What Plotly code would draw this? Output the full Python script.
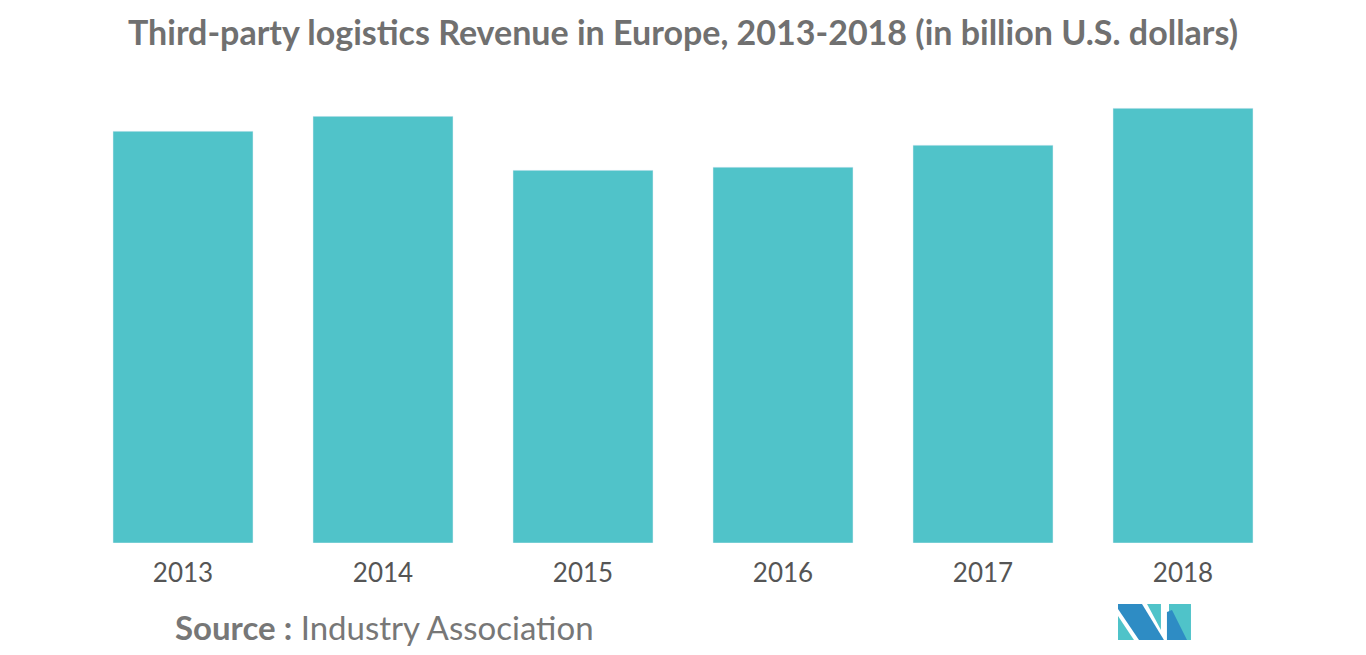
import plotly.graph_objects as go

years = ["2013", "2014", "2015", "2016", "2017", "2018"]
revenue = [168.6, 174.7, 152.6, 153.9, 162.9, 178.0]

fig = go.Figure(go.Bar(x=years, y=revenue, marker_color="#50C3C9", width=0.7))

# the page body adds an 8px offset; coordinates below are reference page pixels
def px(x, y):
    return (x - 83) / 1200, (543 - y) / 464

logo = [
    ("#4FC3C9", [(1118, 616), (1118, 640), (1134, 640)]),
    ("#2E8CC4", [(1118, 604), (1142, 604), (1164, 640), (1139, 640), (1118, 609)]),
    ("#4FC3C9", [(1147, 604), (1161, 604), (1161, 630)]),
    ("#4FC3C9", [(1169, 604), (1191, 604), (1191, 640), (1169, 640)]),
    ("#2E8CC4", [(1167, 612), (1167, 640), (1187, 640), (1172, 610)]),
]
for color, pts in logo:
    p = [px(*q) for q in pts]
    path = "M " + " L ".join(f"{a:.4f},{b:.4f}" for a, b in p) + " Z"
    fig.add_shape(type="path", path=path, xref="paper", yref="paper",
                  fillcolor=color, line_width=0, layer="above")

fig.add_annotation(text="<b>Source :</b> Industry Association", xref="paper", yref="paper",
                   x=(173 - 83) / 1200, y=(543 - 627) / 464, xanchor="left", yanchor="middle",
                   showarrow=False, font=dict(size=33, color="#777777", family="Lato"))

fig.update_layout(
    title=dict(text="<b>Third-party logistics Revenue in Europe, 2013-2018 (in billion U.S. dollars)</b>",
               x=(683 - 8) / 1366, xanchor="center", y=1 - 25 / 655, yanchor="middle",
               font=dict(size=34, color="#707070", family="Lato")),
    width=1366, height=655,
    margin=dict(l=75, r=91, t=71, b=120),
    plot_bgcolor="white", paper_bgcolor="white",
    xaxis=dict(showgrid=False, showline=False, ticks="", ticklabelstandoff=12,
               tickfont=dict(size=26, color="#555555", family="Lato")),
    yaxis=dict(visible=False, range=[0, 190]),
    showlegend=False,
    bargap=0.3,
)

fig.write_html("out.html")
